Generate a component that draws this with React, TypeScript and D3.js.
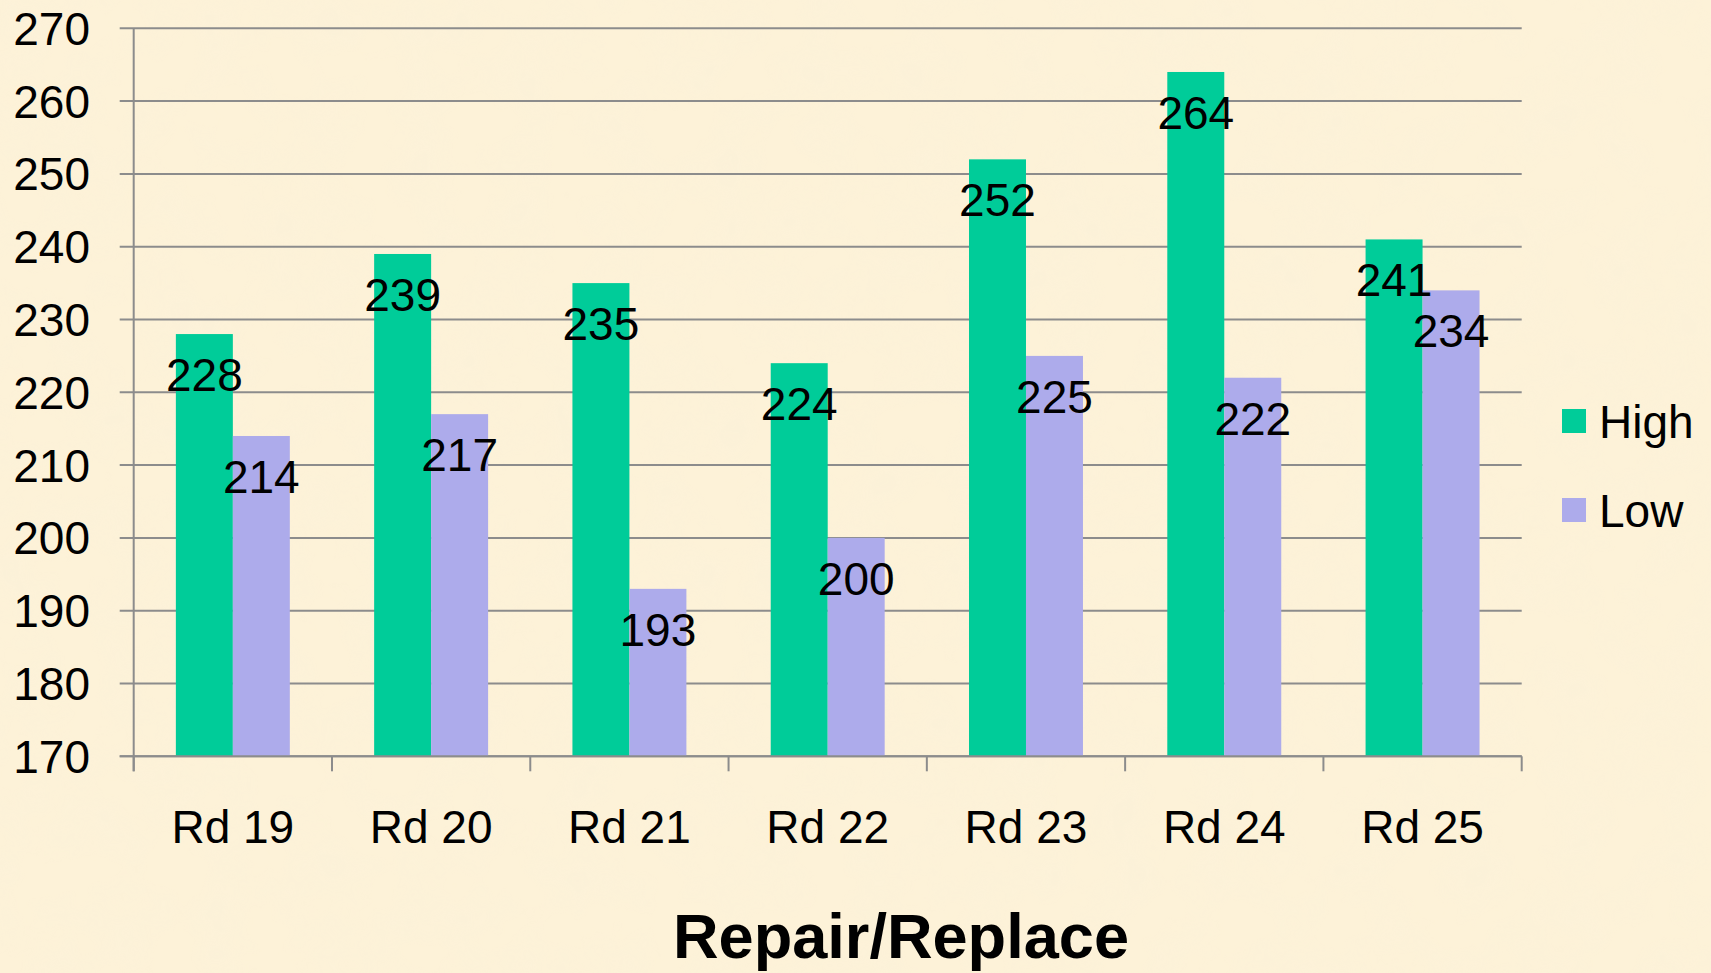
import * as d3 from "d3";
import { useEffect, useRef } from "react";

const categories = ["Rd 19", "Rd 20", "Rd 21", "Rd 22", "Rd 23", "Rd 24", "Rd 25"];
const seriesNames = ["High", "Low"];
const highValues = [228, 239, 235, 224, 252, 264, 241];
const lowValues = [214, 217, 193, 200, 225, 222, 234];
const yTicks = [170, 180, 190, 200, 210, 220, 230, 240, 250, 260, 270];
const colors = ["#00CC99", "#ADABEB"];
const axisTitle = "Repair/Replace";

const App = () => {
    const ref = useRef<SVGSVGElement>(null);

    useEffect(() => {
        const W = 1711,
            H = 973;
        const left = 133.7,
            right = 1521.7,
            top = 28.3,
            bottom = 756.3;

        const svg = d3.select(ref.current);
        svg.selectAll("*").remove();

        // background with a faint paper texture
        const defs = svg.append("defs");
        const f = defs.append("filter").attr("id", "paper").attr("x", 0).attr("y", 0).attr("width", "100%").attr("height", "100%");
        f.append("feTurbulence").attr("type", "fractalNoise").attr("baseFrequency", 0.02).attr("numOctaves", 3).attr("seed", 4);
        f.append("feColorMatrix")
            .attr("type", "matrix")
            .attr("values", "0 0 0 0 0.93  0 0 0 0 0.86  0 0 0 0 0.70  0 0 0 -0.9 0.55");
        svg.append("rect").attr("width", W).attr("height", H).attr("fill", "#FDF2D8");
        svg.append("rect").attr("width", W).attr("height", H).attr("filter", "url(#paper)").attr("opacity", 0.5);

        const x = d3.scaleBand().domain(categories).range([left, right]).padding(0);
        const xs = d3.scaleBand().domain(seriesNames).range([0, x.bandwidth()]).paddingInner(0).paddingOuter(0.74);
        const y = d3.scaleLinear().domain([170, 270]).range([bottom, top]);

        // gridlines
        svg.append("g")
            .selectAll("line")
            .data(yTicks)
            .join("line")
            .attr("x1", left - 14)
            .attr("x2", right)
            .attr("y1", (d) => y(d))
            .attr("y2", (d) => y(d))
            .attr("stroke", "#8C8C8C")
            .attr("stroke-width", 2);

        // y labels
        svg.append("g")
            .selectAll("text")
            .data(yTicks)
            .join("text")
            .attr("x", 90)
            .attr("y", (d) => y(d))
            .attr("dy", "0.36em")
            .attr("text-anchor", "end")
            .style("font-family", "Liberation Sans, Arial, sans-serif")
            .style("font-size", "46px")
            .text((d) => d);

        // bars
        const rows = categories.map((c, i) => ({ c, vals: [highValues[i], lowValues[i]] }));
        const groups = svg.append("g")
            .selectAll("g")
            .data(rows)
            .join("g")
            .attr("transform", (d) => `translate(${x(d.c)},0)`);

        groups.selectAll("rect")
            .data((d) => d.vals.map((v, j) => ({ s: seriesNames[j], v, j })))
            .join("rect")
            .attr("x", (d) => xs(d.s)!)
            .attr("y", (d) => y(d.v))
            .attr("width", xs.bandwidth())
            .attr("height", (d) => bottom - y(d.v))
            .attr("fill", (d) => colors[d.j]);

        groups.selectAll("text")
            .data((d) => d.vals.map((v, j) => ({ s: seriesNames[j], v, j })))
            .join("text")
            .attr("x", (d) => xs(d.s)! + xs.bandwidth() / 2)
            .attr("y", (d) => y(d.v) + 57)
            .attr("text-anchor", "middle")
            .style("font-family", "Liberation Sans, Arial, sans-serif")
            .style("font-size", "46px")
            .text((d) => d.v);

        // axes lines
        svg.append("line")
            .attr("x1", left).attr("x2", left)
            .attr("y1", top).attr("y2", bottom + 15)
            .attr("stroke", "#8C8C8C").attr("stroke-width", 2);
        svg.append("line")
            .attr("x1", left - 14).attr("x2", right)
            .attr("y1", bottom).attr("y2", bottom)
            .attr("stroke", "#8C8C8C").attr("stroke-width", 2);
        const bounds = categories.map((c) => x(c)!).concat([right]);
        svg.append("g")
            .selectAll("line")
            .data(bounds)
            .join("line")
            .attr("x1", (d) => d).attr("x2", (d) => d)
            .attr("y1", bottom).attr("y2", bottom + 15)
            .attr("stroke", "#8C8C8C").attr("stroke-width", 2);

        // x labels
        svg.append("g")
            .selectAll("text")
            .data(categories)
            .join("text")
            .attr("x", (d) => x(d)! + x.bandwidth() / 2)
            .attr("y", 843)
            .attr("text-anchor", "middle")
            .style("font-family", "Liberation Sans, Arial, sans-serif")
            .style("font-size", "46px")
            .text((d) => d);

        // axis title
        svg.append("text")
            .attr("x", 901)
            .attr("y", 958)
            .attr("text-anchor", "middle")
            .attr("textLength", 456)
            .attr("lengthAdjust", "spacingAndGlyphs")
            .style("font-family", "Liberation Sans, Arial, sans-serif")
            .style("font-size", "63px")
            .style("font-weight", "bold")
            .text(axisTitle);

        // legend
        const leg = svg.append("g")
            .selectAll("g")
            .data(seriesNames)
            .join("g")
            .attr("transform", (d, i) => `translate(1562,${409 + i * 89})`);
        leg.append("rect").attr("width", 24).attr("height", 24).attr("fill", (d, i) => colors[i]);
        leg.append("text")
            .attr("x", 37)
            .attr("y", 29)
            .style("font-family", "Liberation Sans, Arial, sans-serif")
            .style("font-size", "46px")
            .text((d) => d);
    }, []);

    return (
        <div style={{ position: "absolute", left: 0, top: 0 }}>
            <svg width={1711} height={973} ref={ref} style={{ display: "block" }} />
        </div>
    );
};

export default App;
